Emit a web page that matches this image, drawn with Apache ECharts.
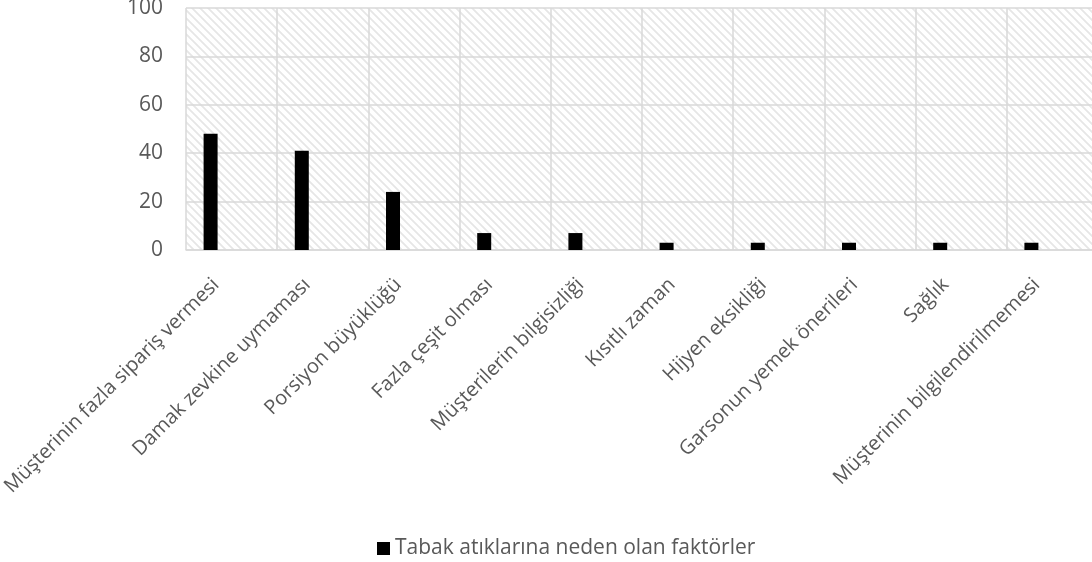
<!DOCTYPE html>
<html>
<head>
<meta charset="utf-8">
<script src="https://cdn.jsdelivr.net/npm/echarts@6/dist/echarts.min.js"></script>
<style>
  html, body { margin: 0; padding: 0; background: #fff; }
  #chart { width: 1092px; height: 562px; }
</style>
</head>
<body>
<div id="chart"></div>
<script>
// data
const categories = [
  'Müşterinin fazla sipariş vermesi',
  'Damak zevkine uymaması',
  'Porsiyon büyüklüğü',
  'Fazla çeşit olması',
  'Müşterilerin bilgisizliği',
  'Kısıtlı zaman',
  'Hijyen eksikliği',
  'Garsonun yemek önerileri',
  'Sağlık',
  'Müşterinin bilgilendirilmemesi'
]
const seriesName = 'Tabak atıklarına neden olan faktörler'
const values = [48, 41, 24, 7, 7, 3, 3, 3, 3, 3]
const yTicks = [0, 20, 40, 60, 80, 100]

const textColor = '#595959'
const lineColor = '#d9d9d9'
const fontFamily = '"Open Sans", sans-serif'

// light diagonal hatch for the plot area
const makeHatch = () => {
  const c = document.createElement('canvas')
  c.width = 8
  c.height = 8
  const g = c.getContext('2d')
  g.fillStyle = '#ffffff'
  g.fillRect(0, 0, 8, 8)
  g.strokeStyle = '#e6e6e6'
  g.lineWidth = 1.8
  g.beginPath()
  g.moveTo(-2, -2); g.lineTo(10, 10)
  g.moveTo(-10, -2); g.lineTo(2, 10)
  g.moveTo(6, -2); g.lineTo(18, 10)
  g.stroke()
  return c
}

const chart = echarts.init(document.getElementById('chart'), null, {renderer: 'canvas'})

// the source chart left room for 4 bars per category, only the first one is filled
const emptySeries = [1, 2, 3].map((i) => ({
  name: 'empty' + i,
  type: 'bar',
  barWidth: 14,
  data: []
}))

chart.setOption({
  animation: false,
  textStyle: {fontFamily: fontFamily},
  grid: {
    left: 186,
    top: 8,
    right: -6,
    bottom: 312,
    outerBoundsMode: 'none',
    show: true,
    borderWidth: 0,
    backgroundColor: {image: makeHatch(), repeat: 'repeat'}
  },
  legend: {
    data: [seriesName],
    left: 372,
    top: 533,
    itemWidth: 13,
    itemHeight: 13,
    icon: 'rect',
    itemGap: 5,
    textStyle: {color: textColor, fontSize: 21, fontFamily: fontFamily}
  },
  xAxis: {
    type: 'category',
    data: categories,
    axisTick: {show: false},
    axisLine: {show: true, lineStyle: {color: lineColor, width: 1.5}},
    splitLine: {show: true, lineStyle: {color: lineColor, width: 1.5}},
    axisLabel: {
      rotate: 45,
      interval: 0,
      margin: 16,
      padding: [0, 22, 0, 0],
      color: textColor,
      fontSize: 20,
      fontFamily: fontFamily
    }
  },
  yAxis: {
    type: 'value',
    min: yTicks[0],
    max: yTicks[yTicks.length - 1],
    interval: yTicks[1] - yTicks[0],
    axisLine: {show: false},
    axisTick: {show: false},
    splitLine: {show: true, lineStyle: {color: lineColor, width: 1.5}},
    axisLabel: {
      margin: 23,
      color: textColor,
      fontSize: 21,
      fontFamily: fontFamily
    }
  },
  series: [
    {
      name: seriesName,
      type: 'bar',
      barWidth: 14,
      barGap: '0%',
      itemStyle: {color: '#000000'},
      data: values
    },
    ...emptySeries
  ]
})
</script>
</body>
</html>
